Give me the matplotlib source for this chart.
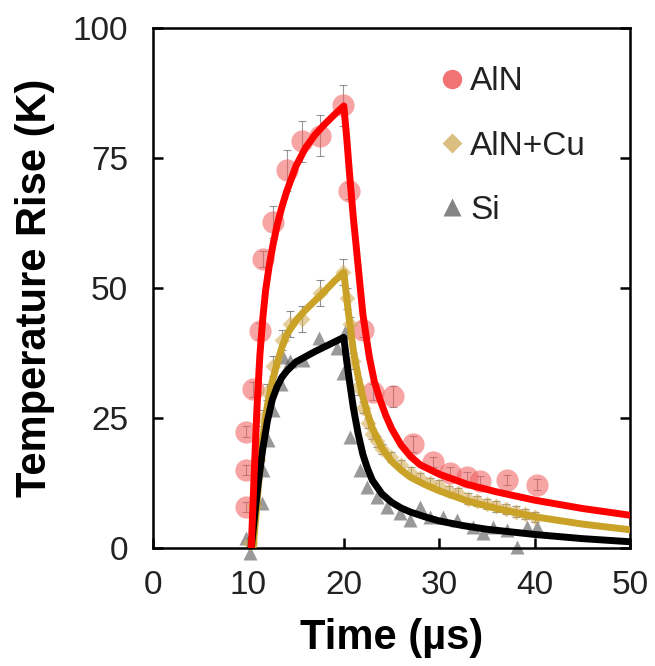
import matplotlib
matplotlib.use("Agg")
import matplotlib.pyplot as plt
from matplotlib.lines import Line2D

plt.rcParams["font.family"] = ["Liberation Sans", "DejaVu Sans"]

# ── Measured points ──────────────────────────────────────────────────────────
aln_t = [9.8, 9.8, 9.8, 10.5, 11.2, 11.5, 12.6, 14.0, 15.6, 17.5, 19.9, 20.5,
         22.0, 23.1, 25.2, 27.3, 29.4, 31.1, 32.9, 34.3, 37.1, 40.3]
aln_T = [7.9, 15.0, 22.4, 30.5, 41.7, 55.6, 62.7, 72.6, 78.2, 79.3, 85.1, 68.7,
         42.0, 30.0, 29.2, 20.0, 16.5, 14.5, 13.6, 12.8, 13.1, 12.2]
aln_err = [1, 1, 1, 1.5, 1.5, 1.5, 3, 4, 4, 4, 4, 1.5,
           1.5, 1.5, 2, 1.5, 1, 1, 1, 1, 1, 1]

cu_t = [10.2, 10.6, 11.0, 11.5, 12.0, 12.6, 13.5, 14.4, 15.6, 17.5, 19.9, 20.3,
        20.6, 21.0, 21.5, 22.0, 22.5, 23.0, 23.5, 24.0, 25.0, 26.0, 27.0, 28.0,
        29.0, 30.0, 31.0, 32.0, 33.0, 34.0, 35.0, 36.0, 37.0, 38.0, 39.0, 40.0]
cu_T = [1, 8, 17, 25, 30, 35, 40, 43, 44, 49, 53, 48,
        43, 36, 31, 27, 24, 22, 20.5, 19, 17.5, 16, 14.5, 13.5,
        12.5, 12, 11, 10.5, 9.5, 9, 8.5, 8, 7.5, 7, 6.5, 6]
cu_err = [1, 1, 1, 1.5, 1.5, 2, 2, 2.5, 2.5, 2.5, 2.5, 2,
          1.5, 1.5, 1.5, 1, 1, 1, 1, 1, 1, 1, 1, 1,
          1, 1, 1, 1, 1, 1, 1, 1, 1, 1, 1, 1]

si_t = [9.8, 10.2, 11.4, 11.5, 12.1, 12.6, 13.4, 13.6, 14.4, 15.7, 17.4, 19.3,
        20.1, 19.9, 20.6, 21.7, 22.4, 23.5, 24.5, 25.9, 26.9, 28.0, 29.0, 30.4,
        31.9, 33.5, 34.6, 35.6, 37.1, 38.2, 39.2, 40.3]
si_T = [2, -1, 8.7, 15, 20.8, 26.5, 31.5, 36.8, 36, 36.2, 40.4, 38.5,
        41.6, 33.7, 21.4, 15, 11.8, 9.8, 7.9, 6.7, 5.4, 7.9, 6.0, 6.0,
        5.4, 4.0, 2.9, 4.0, 3.5, 0.2, 4.0, 4.0]

# ── Fitted curves ────────────────────────────────────────────────────────────
aln_fit_t = [10.3, 10.6, 10.9, 11.2, 11.5, 11.8, 12.2, 12.6, 13.0, 13.5, 14.0,
             15.0, 16.0, 17.0, 18.0, 19.0, 20.0, 20.3, 20.6, 21.0, 21.3, 21.7,
             22.0, 22.4, 22.7, 23.2, 23.8, 24.4, 25.0, 26.0, 27.0, 28.0, 30.0,
             33.0, 36.0, 40.0, 45.0, 50.0]
aln_fit_T = [0, 14, 27, 37, 44, 49.5, 54.5, 58.5, 62, 65.5, 68.5,
             73.5, 77, 79.5, 81.5, 83.3, 85, 79, 72, 63.5, 58, 50.5,
             45, 40, 36.5, 32, 28.5, 25.5, 23, 19.8, 17.6, 16, 14.2,
             12.2, 10.8, 9.2, 7.6, 6.3]

cu_fit_t = [10.5, 11.0, 11.5, 12.0, 12.5, 13.0, 13.5, 14.0, 15.0, 16.0, 17.0,
            18.0, 19.0, 20.0, 20.5, 21.0, 21.5, 22.0, 22.5, 23.0, 24.0, 25.0,
            26.0, 27.0, 28.5, 30.0, 33.0, 36.0, 40.0, 45.0, 50.0]
cu_fit_T = [0, 11, 21, 27.5, 32, 35.5, 38.5, 41, 43.8, 45.8, 47.6,
            49.4, 51.3, 53, 45, 38, 33, 29, 25.8, 23, 19.2, 16.7,
            15, 13.6, 12.2, 11, 9, 7.6, 6, 4.6, 3.5]

si_fit_t = [10.3, 10.7, 11.0, 11.5, 12.0, 12.5, 13.0, 13.5, 14.0, 15.0, 16.0,
            17.0, 18.0, 19.0, 20.0, 20.3, 20.6, 21.0, 21.5, 22.0, 22.5, 23.0,
            24.0, 25.0, 26.0, 27.0, 28.5, 30.0, 32.5, 35.0, 40.0, 45.0, 50.0]
si_fit_T = [0, 7, 12, 19, 24.5, 28.5, 31, 32.8, 34, 35.8, 36.8,
            37.8, 38.7, 39.6, 40.5, 36, 32, 27, 22, 18, 15.2, 13,
            10.4, 8.8, 7.7, 6.9, 6, 5.2, 4.3, 3.6, 2.6, 1.8, 1.2]

x_ticks = [0, 10, 20, 30, 40, 50]
y_ticks = [0, 25, 50, 75, 100]

# ── Plot ─────────────────────────────────────────────────────────────────────
fig = plt.figure(figsize=(6.55, 6.66), dpi=100)
ax = fig.add_axes([0.2336, 0.1772, 0.7282, 0.7808])

ebar_kw = dict(ecolor="#444444", elinewidth=0.8, capsize=3, capthick=0.8,
               linestyle="none", clip_on=False)

ax.errorbar(aln_t, aln_T, yerr=aln_err, fmt="o", ms=16, mfc="#f05a5a",
            mec="none", alpha=0.55, zorder=2, **ebar_kw)
ax.errorbar(cu_t, cu_T, yerr=cu_err, fmt="D", ms=8, mfc="#d4ae5a",
            mec="none", alpha=0.6, zorder=2, **ebar_kw)
ax.plot(si_t, si_T, "^", ms=10, color="#555555", alpha=0.6, mec="none",
        zorder=2, clip_on=False)

line_kw = dict(lw=5, solid_capstyle="round", solid_joinstyle="round")
ax.plot(aln_fit_t, aln_fit_T, color="#ff0000", zorder=4, **line_kw)
ax.plot(cu_fit_t, cu_fit_T, color="#c9a227", zorder=3, **line_kw)
ax.plot(si_fit_t, si_fit_T, color="black", zorder=3, **line_kw)

ax.set_xlim(0, 50)
ax.set_ylim(0, 100)
ax.set_xticks(x_ticks)
ax.set_yticks(y_ticks)

for sp in ax.spines.values():
    sp.set_linewidth(1.8)
ax.tick_params(direction="in", length=7, width=1.8, labelsize=24,
               labelcolor="#222222", right=True, top=False)
ax.tick_params(axis="y", pad=18)
ax.tick_params(axis="x", pad=16)

ax.set_xlabel("Time (µs)", fontsize=30, fontweight="bold")
ax.set_ylabel("Temperature Rise (K)", fontsize=30, fontweight="bold")
ax.xaxis.set_label_coords(0.5, -0.135)
ax.yaxis.set_label_coords(-0.205, 0.5)

handles = [
    Line2D([], [], ls="none", marker="o", ms=14, mfc="#f05a5a", mec="none",
           alpha=0.85, label="AlN"),
    Line2D([], [], ls="none", marker="D", ms=10, mfc="#d4b46a", mec="none",
           alpha=0.85, label="AlN+Cu"),
    Line2D([], [], ls="none", marker="^", ms=13, mfc="#777777", mec="none",
           alpha=0.9, label="Si"),
]
ax.legend(handles=handles, loc="upper right", frameon=False, fontsize=24,
          handlelength=0.8, handletextpad=0.15, labelspacing=1.0,
          borderaxespad=0.2, bbox_to_anchor=(0.95, 0.965),
          labelcolor="#222222")

fig.savefig("out.png", dpi=100)
